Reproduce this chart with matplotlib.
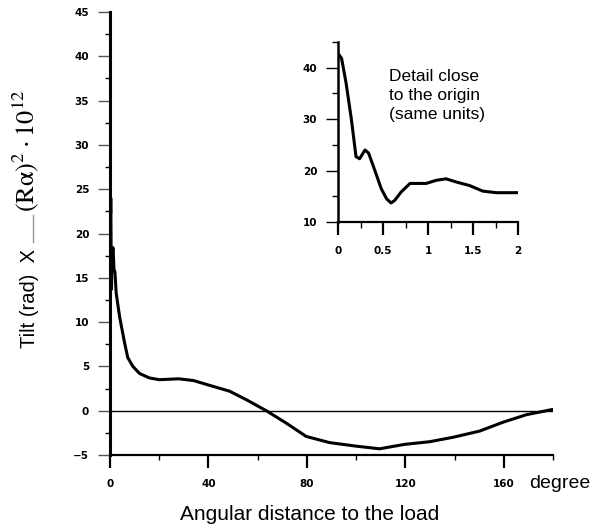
import matplotlib
matplotlib.use("Agg")
import matplotlib.pyplot as plt
from matplotlib.ticker import MultipleLocator, FixedLocator
from matplotlib.lines import Line2D
import matplotlib.transforms as mtransforms

plt.rcParams['font.family'] = ['Liberation Sans', 'DejaVu Sans']
plt.rcParams['mathtext.fontset'] = 'stix'

# Detail near origin (degrees, value)
inset_x = [0.0, 0.04, 0.09, 0.15, 0.2, 0.24, 0.3, 0.34, 0.41, 0.48, 0.54, 0.59, 0.63, 0.7, 0.8, 0.98, 1.09, 1.2, 1.31, 1.46, 1.61, 1.76, 2.0]
inset_y = [42.8, 41.8, 37.0, 29.8, 22.7, 22.3, 24.0, 23.4, 20.0, 16.5, 14.5, 13.7, 14.2, 15.8, 17.5, 17.5, 18.1, 18.4, 17.8, 17.1, 16.0, 15.7, 15.7]

# Full range (degrees, value)
far_x = [2.5, 3.9, 5.9, 7.2, 9.3, 12, 16, 20, 28, 34, 40, 48.6, 55.4, 63.5, 71.6, 79.7, 89.2, 100, 109.5, 119.7, 129.9, 139.4, 150.2, 159.7, 169.2, 180]
far_y = [13.3, 10.6, 7.7, 6.0, 5.0, 4.2, 3.7, 3.5, 3.6, 3.4, 2.9, 2.2, 1.24, 0.0, -1.4, -2.9, -3.6, -4.0, -4.3, -3.8, -3.5, -3.0, -2.3, -1.3, -0.45, 0.15]

main_x = inset_x + far_x
main_y = inset_y + far_y

main_xticks = [0, 40, 80, 120, 160]
main_xminor = [20, 60, 100, 140, 180]
inset_xticks = [0, 0.5, 1, 1.5, 2]
inset_xlabels = ['0', '0.5', '1', '1.5', '2']
inset_yticks = [10, 20, 30, 40]

W, H = 604, 530
fig = plt.figure(figsize=(W / 100, H / 100), dpi=100)
ax = fig.add_axes([110 / W, 1 - 455 / H, 443 / W, 443 / H])

tick_font = dict(family='DejaVu Sans', weight='bold', size=7.5)

ax.plot(main_x, main_y, color='black', lw=2.2, solid_joinstyle='round')
ax.axhline(0, color='black', lw=1.0)
ax.set_xlim(0, 180)
ax.set_ylim(-5, 45)
for s in ['top', 'right']:
    ax.spines[s].set_visible(False)
ax.spines['left'].set_linewidth(2.2)
ax.spines['bottom'].set_linewidth(1.6)

ax.xaxis.set_major_locator(FixedLocator(main_xticks))
ax.xaxis.set_minor_locator(FixedLocator(main_xminor))
ax.yaxis.set_major_locator(MultipleLocator(5))
ax.yaxis.set_minor_locator(MultipleLocator(2.5))
ax.tick_params(axis='both', which='major', length=9, width=1.0, color='#555555')
ax.tick_params(axis='both', which='minor', length=3.6, width=1.0, color='black')
ax.tick_params(axis='x', which='major', color='black', width=1.6, pad=8)
ax.tick_params(axis='y', which='major', pad=6)
for lab in ax.get_xticklabels() + ax.get_yticklabels():
    lab.set_fontproperties(tick_font)

trans = mtransforms.blended_transform_factory(ax.transData, fig.transFigure)
ax.text(170.5, 1 - 483 / H, 'degree', transform=trans, ha='left', va='center', fontsize=14)

fig.text(310 / W, 1 - 515 / H, 'Angular distance to the load', ha='center', va='center', fontsize=15)

# y label in pieces (sans part, separator, serif part)
fig.text(30 / W, 1 - 348 / H, 'Tilt (rad)  X', rotation=90, ha='center', va='bottom', fontsize=14.5)
fig.add_artist(Line2D([33 / W, 33 / W], [1 - 242 / H, 1 - 215 / H], color='#999999', lw=1.0,
                      transform=fig.transFigure))
fig.text(26 / W, 1 - 212 / H, r'$\mathrm{(R\alpha)^2\cdot 10^{12}}$', rotation=90,
         ha='center', va='bottom', fontsize=19)

# Inset
axi = fig.add_axes([338 / W, 1 - 222 / H, 180 / W, 180 / H])
axi.plot(inset_x, inset_y, color='black', lw=2.2, solid_joinstyle='round')
axi.set_xlim(0, 2)
axi.set_ylim(10, 45)
for s in ['top', 'right']:
    axi.spines[s].set_visible(False)
axi.spines['left'].set_linewidth(1.8)
axi.spines['bottom'].set_linewidth(1.6)
axi.set_xticks(inset_xticks)
axi.set_xticklabels(inset_xlabels)
axi.xaxis.set_minor_locator(MultipleLocator(0.25))
axi.set_yticks(inset_yticks)
axi.set_yticklabels([str(v) for v in inset_yticks])
axi.yaxis.set_minor_locator(MultipleLocator(5))
axi.tick_params(axis='both', which='major', length=9, width=1.0, color='black', pad=6)
axi.tick_params(axis='x', which='major', width=1.6, pad=8)
axi.tick_params(axis='both', which='minor', length=4, width=1.0, color='black')
for lab in axi.get_xticklabels() + axi.get_yticklabels():
    lab.set_fontproperties(tick_font)
axi.text(0.57, 34.6, 'Detail close\nto the origin\n(same units)', fontsize=12.5,
         va='center', ha='left', linespacing=1.3)

fig.savefig('out.png', dpi=100)
